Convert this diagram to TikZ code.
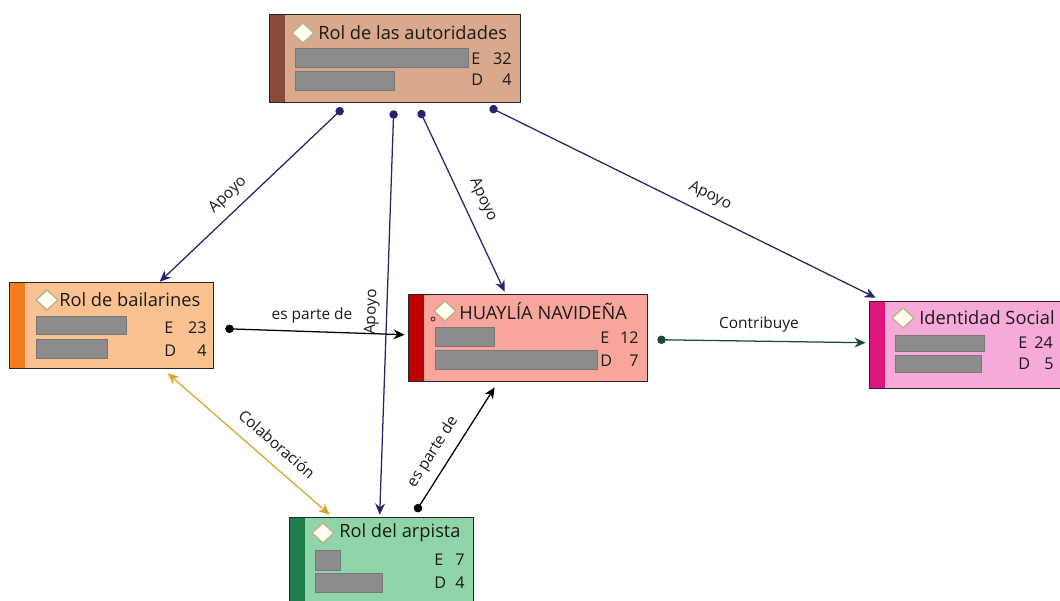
\documentclass[tikz,border=0pt]{standalone}
\usepackage{fontspec}
\setmainfont{Open Sans}
\usetikzlibrary{arrows.meta,fit,calc}
\definecolor{autfill}{HTML}{D9A98B}
\definecolor{autstripe}{HTML}{8B4B3B}
\definecolor{bailfill}{HTML}{F9C290}
\definecolor{bailstripe}{HTML}{F47B20}
\definecolor{huayfill}{HTML}{F8A59B}
\definecolor{huaystripe}{HTML}{C00000}
\definecolor{idenfill}{HTML}{F5AAD9}
\definecolor{idenstripe}{HTML}{E0147F}
\definecolor{arpfill}{HTML}{90D4A9}
\definecolor{arpstripe}{HTML}{1E7D4B}
\definecolor{barfill}{HTML}{8C8C8C}
\definecolor{barline}{HTML}{777777}
\definecolor{navy}{HTML}{25256E}
\definecolor{dkgreen}{HTML}{1D4A3C}
\definecolor{gold}{HTML}{D9A62E}
\definecolor{diamline}{HTML}{B9B48C}
\definecolor{diamfill}{HTML}{FFFEF0}
\definecolor{txt}{HTML}{1A1A1A}
\tikzset{
  boxline/.style={draw=black!85, line width=0.8pt},
  barbox/.style={fill=barfill, draw=barline, line width=0.4pt},
  diam/.style={fill=diamfill, draw=diamline, line width=1pt},
  titletext/.style={anchor=west, inner sep=0pt, text=txt, font=\fontsize{13}{15}\selectfont},
  numtext/.style={inner sep=0pt, text=txt, font=\fontsize{11.5}{13}\selectfont},
  conn/.style={line width=0.9pt, {Circle[length=6pt]}-{Stealth[length=8pt,width=7pt]}},
  lbl/.style={inner sep=0pt, text=txt, font=\fontsize{11}{13}\selectfont},
}
\newcommand\drawconcept[7]{%
  \node[fit={(#2,#3) (#4,#5)}, inner sep=0pt, fill=#6, draw=none] (#1) {};
  \fill[#7] (#1.north west) rectangle ($(#1.south west)+(15,0)$);
  \draw[boxline] (#1.north west) rectangle (#1.south east);
}
\newcommand\drawdiam[2]{%
  \draw[diam] (#1-11,#2) -- (#1,#2-10) -- (#1+11,#2) -- (#1,#2+10) -- cycle;
}
\begin{document}
\begin{tikzpicture}[x=0.025cm,y=-0.025cm]
\useasboundingbox (0,0) rectangle (1060,600);
\clip (0,0) rectangle (1060,600);
\fill[white] (0,0) rectangle (1060,600);

% Rol de las autoridades
\drawconcept{aut}{270}{15}{520}{102}{autfill}{autstripe}
\drawdiam{303}{33}
\node[titletext] (autT) at (318,33) {Rol de las autoridades};
\draw[barbox] (295,48) rectangle (468,67);
\draw[barbox] (295,71) rectangle (394,90);
\node[numtext, anchor=west] (autE) at (471,59) {E};
\node[numtext, anchor=east] (autEn) at (512,59) {32};
\node[numtext, anchor=west] (autD) at (471,80) {D};
\node[numtext, anchor=east] (autDn) at (512,80) {4};

% Rol de bailarines
\drawconcept{bail}{10}{283}{213}{368}{bailfill}{bailstripe}
\drawdiam{47}{300}
\node[titletext] (bailT) at (59,300) {Rol de bailarines};
\draw[barbox] (36,316) rectangle (126,334);
\draw[barbox] (36,339) rectangle (107,358);
\node[numtext, anchor=west] (bailE) at (164,328) {E};
\node[numtext, anchor=east] (bailEn) at (207,328) {23};
\node[numtext, anchor=west] (bailD) at (164,351) {D};
\node[numtext, anchor=east] (bailDn) at (207,351) {4};

% HUAYLIA NAVIDEÑA
\drawconcept{huay}{409}{295}{647}{381}{huayfill}{huaystripe}
\drawdiam{445}{311}
\draw[black!80, line width=0.6pt] (433,319) circle (2);
\node[titletext] (huayT) at (459,311) {HUAYLÍA NAVIDEÑA};
\draw[barbox] (435,327) rectangle (494,346);
\draw[barbox] (435,350) rectangle (597,369);
\node[numtext, anchor=west] (huayE) at (600,338) {E};
\node[numtext, anchor=east] (huayEn) at (639,338) {12};
\node[numtext, anchor=west] (huayD) at (600,361) {D};
\node[numtext, anchor=east] (huayDn) at (639,361) {7};

% Identidad Social
\drawconcept{iden}{870}{302}{1075}{388}{idenfill}{idenstripe}
\drawdiam{903}{318}
\node[titletext] (idenT) at (919,318) {Identidad Social};
\draw[barbox] (895,335) rectangle (984,351);
\draw[barbox] (895,355) rectangle (981,372);
\node[numtext, anchor=west] (idenE) at (1018,343) {E};
\node[numtext, anchor=west] (idenEn) at (1034,343) {24};
\node[numtext, anchor=west] (idenD) at (1018,364) {D};
\node[numtext, anchor=west] (idenDn) at (1044,364) {5};

% Rol del arpista
\drawconcept{arp}{290}{518}{473}{612}{arpfill}{arpstripe}
\drawdiam{323}{533}
\node[titletext] (arpT) at (339,533) {Rol del arpista};
\draw[barbox] (315,550) rectangle (340,570);
\draw[barbox] (315,573) rectangle (382,592);
\node[numtext, anchor=west] (arpE) at (434,560) {E};
\node[numtext, anchor=east] (arpEn) at (465,560) {7};
\node[numtext, anchor=west] (arpD) at (434,583) {D};
\node[numtext, anchor=east] (arpDn) at (465,583) {4};

% connectors
\draw[conn, navy] ($(aut.south west)+(73,6)$) -- ($(bail.north west)+(150,-1)$);
\draw[conn, navy] ($(aut.south west)+(124,8)$) -- ($(arp.north west)+(90,-3)$);
\draw[conn, navy] ($(aut.south west)+(150,8)$) -- ($(huay.north west)+(96,-3)$);
\draw[conn, navy] ($(aut.south west)+(220,5)$) -- ($(iden.north west)+(6,-4)$);
\draw[conn, black] ($(bail.north east)+(12,46)$) -- ($(huay.north west)+(-4,40)$);
\draw[conn, dkgreen] ($(huay.north east)+(10,45)$) -- ($(iden.north west)+(-4,41)$);
\draw[conn, black] ($(arp.north west)+(126,-6)$) -- ($(huay.south west)+(86,6)$);
\draw[gold, line width=0.9pt, {Stealth[length=8pt,width=7pt]}-{Stealth[length=8pt,width=7pt]}]
  ($(bail.south west)+(158,5)$) -- ($(arp.north west)+(40,-3)$);

% labels
\node[lbl, rotate=43.6] (l1) at (228,195) {Apoyo};
\node[lbl, rotate=88] (l2) at (372,312) {Apoyo};
\node[lbl, rotate=-65] (l3) at (483,200) {Apoyo};
\node[lbl, rotate=-26.3] (l4) at (710,196) {Apoyo};
\node[lbl] (l5) at (312,315) {es parte de};
\node[lbl] (l6) at (759,324) {Contribuye};
\node[lbl, rotate=57.7] (l7) at (433,452) {es parte de};
\node[lbl, rotate=-41.2] (l8) at (277,444) {Colaboración};
\end{tikzpicture}
\end{document}
